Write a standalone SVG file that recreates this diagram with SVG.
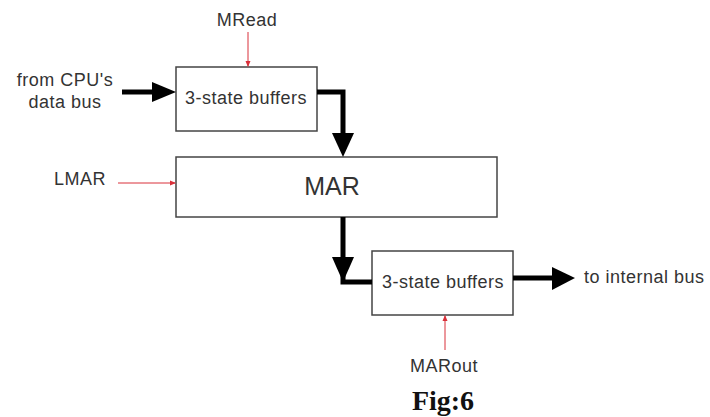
<svg xmlns="http://www.w3.org/2000/svg" width="710" height="417" viewBox="0 0 710 417">
<style>
.box{fill:#fff;stroke:#444;stroke-width:1.5}
.t{font-family:"Liberation Sans",Arial,sans-serif;font-size:18px;letter-spacing:0.5px;fill:#333}
.big{font-size:25px;letter-spacing:0}
.bus{fill:none;stroke:#000;stroke-width:5}
.head{fill:#000}
.ctl{fill:none;stroke:#d9303a;stroke-width:1}
</style>
<defs>
<marker id="sm" markerWidth="6" markerHeight="6" refX="5" refY="3" orient="auto" markerUnits="userSpaceOnUse"><path d="M0,0.5 L6,3 L0,5.5 z" fill="#d9303a"/></marker>
</defs>
<rect width="710" height="417" fill="#fff"/>
<g id="buf1"><rect class="box" x="176" y="67" width="141" height="64"/><text class="t" x="246" y="104" text-anchor="middle">3-state buffers</text></g>
<g id="mar"><rect class="box" x="176" y="157" width="321" height="60"/><text class="t big" x="332" y="195" text-anchor="middle">MAR</text></g>
<g id="buf2"><rect class="box" x="372" y="251" width="141" height="64"/><text class="t" x="443" y="288" text-anchor="middle">3-state buffers</text></g>
<g id="labels">
<text class="t" x="247" y="26" text-anchor="middle">MRead</text>
<text class="t" x="65" y="86" text-anchor="middle">from CPU's</text>
<text class="t" x="65" y="108" text-anchor="middle">data bus</text>
<text class="t" x="80" y="185" text-anchor="middle">LMAR</text>
<text class="t" x="584" y="283">to internal bus</text>
<text class="t" x="444" y="372" text-anchor="middle">MARout</text>
<text x="443" y="410" text-anchor="middle" font-family="Liberation Serif,serif" font-weight="bold" font-size="28" fill="#111">Fig:6</text>
</g>
<g id="connectors">
<path class="bus" d="M122,92 H154"/>
<path class="head" d="M152,82 L176,92 L152,102 z"/>
<path class="bus" d="M317,92 H343 V136"/>
<path class="head" d="M332,133 L354,133 L343,157 z"/>
<path class="bus" d="M343,217 V282 H372"/>
<path class="head" d="M332,257 L354,257 L343,282 z"/>
<path class="bus" d="M513,278 H555"/>
<path class="head" d="M552,267 L575,278 L552,290 z"/>
<path class="ctl" d="M248,32 V66" marker-end="url(#sm)"/>
<path class="ctl" d="M118,183 H175" marker-end="url(#sm)"/>
<path class="ctl" d="M445,350 V316" marker-end="url(#sm)"/>
</g>
</svg>
